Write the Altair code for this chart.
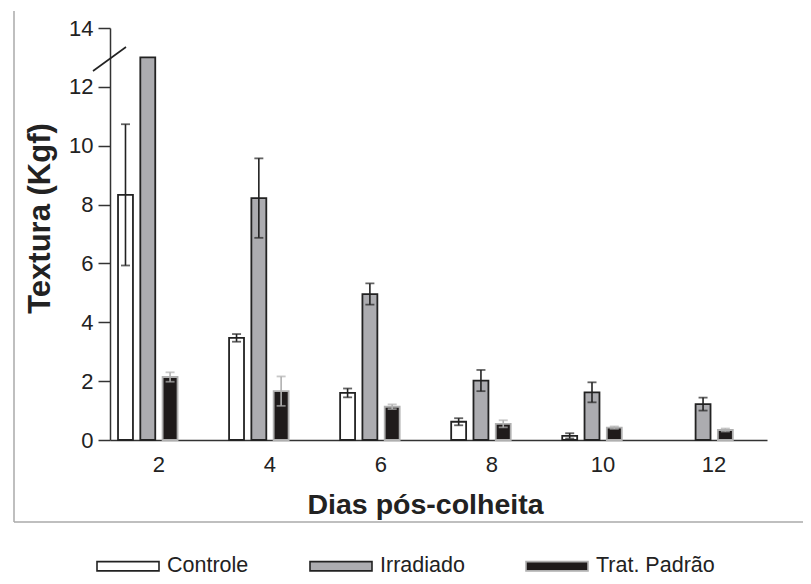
import altair as alt
import pandas as pd

days = [2, 4, 6, 8, 10, 12]
series = ["Controle", "Irradiado", "Trat. Padrão"]
controle = [8.33, 3.47, 1.60, 0.62, 0.14, None]
controle_err = [2.40, 0.13, 0.15, 0.12, 0.09, None]
irradiado = [13.0, 8.22, 4.96, 2.02, 1.62, 1.22]
irradiado_err = [0.0, 1.35, 0.36, 0.36, 0.34, 0.22]
trat = [2.14, 1.66, 1.13, 0.55, 0.42, 0.34]
trat_err = [0.16, 0.50, 0.08, 0.12, 0.04, 0.05]

fills = ["#ffffff", "#acacb0", "#1f1b1b"]
strokes = ["#222222", "#222222", "#b0b0b0"]

rows = []
for name, vals, errs in [(series[0], controle, controle_err),
                         (series[1], irradiado, irradiado_err),
                         (series[2], trat, trat_err)]:
    for d, v, e in zip(days, vals, errs):
        if v is None:
            continue
        rows.append({"day": d, "series": name, "value": v, "err": e})
df = pd.DataFrame(rows)

FONT = "Liberation Sans"

x_enc = alt.X("day:O", title="Dias pós-colheita",
              scale=alt.Scale(paddingInner=0.464, paddingOuter=0.19, align=0.19),
              axis=alt.Axis(labelAngle=0, ticks=False, labelPadding=14, labelOffset=11,
                            labelFontSize=22, labelFont=FONT, labelColor="#222",
                            domainColor="#333", domainWidth=1.5,
                            titleFont=FONT, titleFontSize=28.5, titleFontWeight="bold",
                            titleColor="#222", titlePadding=15, titleX=315))
xo_enc = alt.XOffset("series:N", sort=series,
                     scale=alt.Scale(domain=series, paddingInner=0.33, paddingOuter=0))
y_scale = alt.Scale(domain=[0, 14], nice=False, zero=True)

legend = alt.Legend(title=None, orient="none", direction="horizontal",
                    legendX=7, legendY=527,
                    symbolType="M-3.1,-0.46L3.1,-0.46L3.1,0.46L-3.1,0.46Z",
                    symbolSize=400, symbolStrokeWidth=1.6, symbolOpacity=1,
                    labelFont=FONT, labelFontSize=21.5, labelColor="#222",
                    labelOffset=28, columnPadding=57)

base = alt.Chart(df)

bars = base.mark_bar(strokeWidth=1.8).encode(
    x=x_enc, xOffset=xo_enc,
    y=alt.Y("value:Q", title="Textura (Kgf)", scale=y_scale,
            axis=alt.Axis(values=list(range(0, 15, 2)), tickSize=12, tickColor="#333",
                          tickWidth=1.5, domainColor="#333", domainWidth=1.5,
                          labelFont=FONT, labelFontSize=22, labelColor="#222",
                          labelPadding=5, grid=False,
                          titleFont=FONT, titleFontSize=31,
                          titleFontWeight="bold", titleColor="#222", titlePadding=12,
                          titleY=190)),
    fill=alt.Fill("series:N", sort=series, scale=alt.Scale(domain=series, range=fills), legend=legend),
    stroke=alt.Stroke("series:N", sort=series, scale=alt.Scale(domain=series, range=strokes), legend=legend),
)

err = base.transform_filter("datum.err > 0").transform_calculate(
    lo="datum.value - datum.err", hi="datum.value + datum.err")

err_color = alt.Stroke("series:N", sort=series, scale=alt.Scale(domain=series, range=strokes), legend=None)
cap_color = alt.Color("series:N", sort=series, scale=alt.Scale(domain=series, range=strokes), legend=None)

rules = err.mark_rule(strokeWidth=1.6).encode(
    x=x_enc, xOffset=xo_enc, y=alt.Y("lo:Q", scale=y_scale), y2="hi:Q", stroke=err_color)
caps_lo = err.mark_tick(thickness=1.8, size=9).encode(
    x=x_enc, xOffset=xo_enc, y=alt.Y("lo:Q", scale=y_scale), color=cap_color)
caps_hi = err.mark_tick(thickness=1.8, size=9).encode(
    x=x_enc, xOffset=xo_enc, y=alt.Y("hi:Q", scale=y_scale), color=cap_color)

# axis break mark and outer frame (decoration)
one = pd.DataFrame({"k": [0]})
brk = alt.Chart(one).mark_rule(color="#222", strokeWidth=1.6).encode(
    x=alt.value(-17), x2=alt.value(16), y=alt.value(43), y2=alt.value(19))
frame_l = alt.Chart(one).mark_rule(color="#aaaaaa", strokeWidth=1.5).encode(
    x=alt.value(-96), y=alt.value(-17), y2=alt.value(494))
frame_b = alt.Chart(one).mark_rule(color="#aaaaaa", strokeWidth=1.5).encode(
    x=alt.value(-96), x2=alt.value(701), y=alt.value(494))

chart = alt.layer(bars, rules, caps_lo, caps_hi, brk, frame_l, frame_b).properties(
    width=657, height=412,
    background="white",
    autosize=alt.AutoSizeParams(type="none"),
    padding={"left": 102, "top": 20, "right": 36, "bottom": 136},
).configure_view(stroke=None)

chart.save("out.html", embed_options={"renderer": "svg", "actions": False})
